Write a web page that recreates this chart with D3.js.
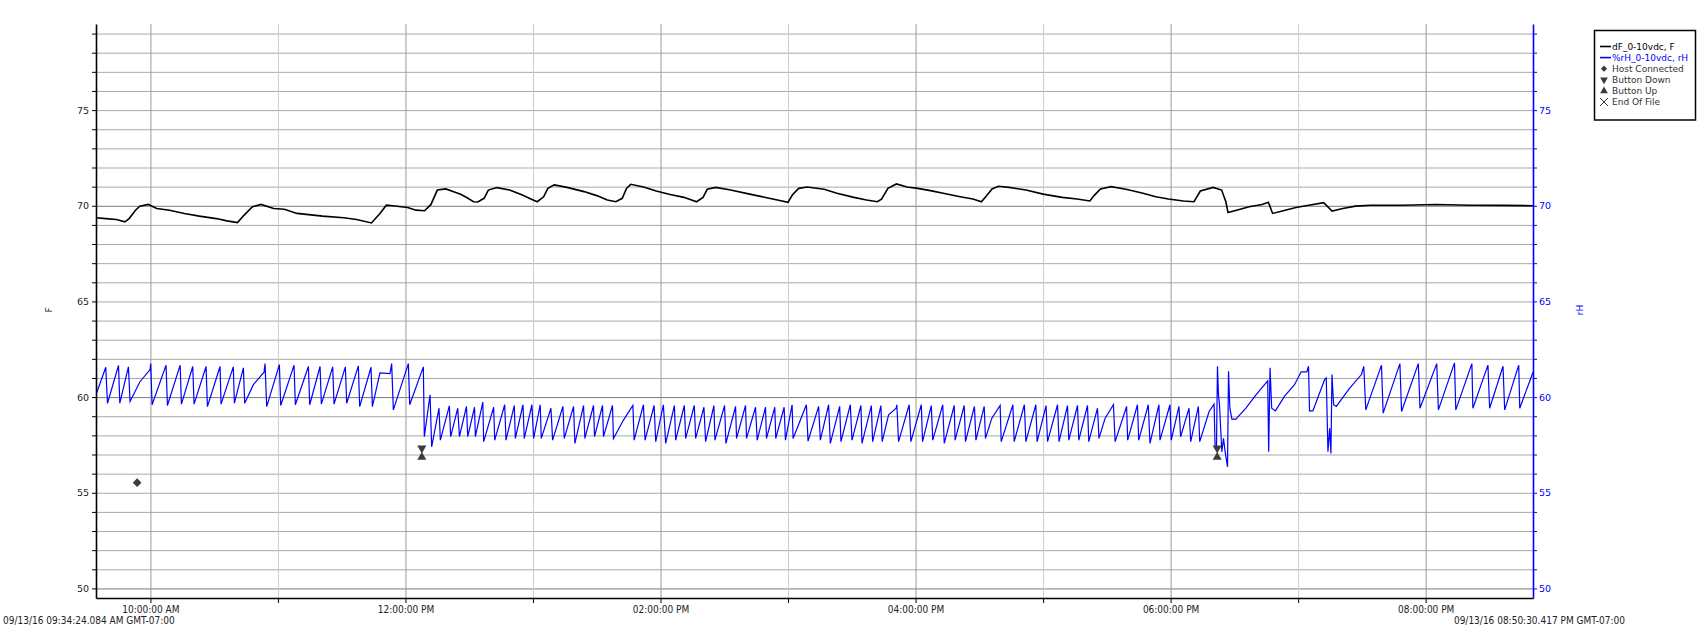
<!DOCTYPE html>
<html><head><meta charset="utf-8">
<script src="https://cdn.jsdelivr.net/npm/d3@7/dist/d3.min.js"></script>
<style>
body{margin:0;background:#fff;}
svg{display:block;}
text{font-family:"DejaVu Sans",sans-serif;}
.cond{font-family:"DejaVu Sans Condensed","Liberation Sans Narrow","Liberation Sans",sans-serif;}
</style></head><body>
<svg id="chart" width="1706" height="633"></svg>
<script>
// ---------- data ----------
const startTime = "09:34:24.084";
const endTime = "20:50:30.417";
const startLabel = "09/13/16 09:34:24.084 AM GMT-07:00";
const endLabel = "09/13/16 08:50:30.417 PM GMT-07:00";
const yDomain = [49.5, 79.5];
const yTicks = d3.range(50, 80);
const yLabelTicks = [50, 55, 60, 65, 70, 75];

const tempTimes = ["09:34:24","09:39","09:44","09:48","09:50","09:53","09:55","09:59","10:03","10:09","10:16","10:23","10:31","10:36","10:41","10:44","10:48","10:52","10:58","11:03","11:09","11:21","11:31","11:37","11:44","11:48","11:51","11:54","12:01","12:05","12:09","12:12","12:15","12:19","12:23","12:26","12:29","12:32","12:34","12:37","12:39","12:43","12:49","12:55","12:59","13:02","13:05","13:07","13:10","13:16","13:24","13:30","13:35","13:39","13:42","13:44","13:46","13:52","13:58","14:04","14:11","14:17","14:20","14:22","14:26","14:33","14:42","14:50","14:55","15:00","15:02","15:05","15:09","15:17","15:23","15:31","15:37","15:42","15:44","15:47","15:51","15:56","16:01","16:07","16:13","16:21","16:27","16:31","16:33","16:36","16:39","16:44","16:52","17:00","17:09","17:16","17:22","17:24","17:27","17:32","17:39","17:47","17:53","17:59","18:06","18:11","18:14","18:20","18:24","18:26","18:27","18:31","18:37","18:43","18:46","18:48","18:53","18:59","19:05","19:12","19:16","19:21","19:27","19:34","19:49","20:05","20:21","20:37","20:50:30"];
const tempValues = [69.37,69.33,69.28,69.16,69.33,69.77,69.98,70.07,69.86,69.77,69.6,69.46,69.33,69.21,69.12,69.5,69.95,70.07,69.86,69.82,69.6,69.46,69.37,69.28,69.1,69.6,70.03,70.0,69.91,69.77,69.74,70.07,70.82,70.88,70.72,70.6,70.42,70.21,70.2,70.39,70.82,70.95,70.82,70.56,70.35,70.21,70.47,70.91,71.09,70.96,70.74,70.53,70.3,70.21,70.39,70.91,71.12,70.98,70.77,70.6,70.44,70.21,70.44,70.86,70.96,70.82,70.61,70.42,70.3,70.18,70.56,70.91,70.98,70.86,70.65,70.44,70.3,70.21,70.35,70.91,71.14,70.98,70.91,70.79,70.65,70.47,70.35,70.21,70.47,70.88,71.02,70.96,70.82,70.61,70.44,70.35,70.25,70.53,70.88,71.0,70.86,70.65,70.47,70.35,70.25,70.21,70.77,70.96,70.82,70.21,69.65,69.77,69.95,70.07,70.18,69.6,69.74,69.91,70.03,70.16,69.72,69.86,69.98,70.03,70.03,70.07,70.03,70.02,70.0];

const rhTimes = ["09:34:24","09:39:00","09:39:48","09:45:00","09:45:36","09:49:39","09:50:26","09:55:00","09:59:50","10:00:09","10:00:47","10:07:22","10:08:00","10:14:00","10:14:35","10:19:55","10:20:32","10:26:11","10:26:49","10:32:46","10:33:14","10:39:00","10:39:31","10:43:45","10:44:22","10:48:27","10:53:28","10:53:56","10:54:43","11:00:41","11:01:18","11:07:35","11:08:12","11:14:20","11:14:57","11:19:49","11:20:26","11:25:46","11:26:24","11:31:44","11:32:21","11:37:50","11:38:28","11:43:48","11:44:26","11:48:00","11:52:44","11:53:31","11:54:18","12:01:22","12:02:00","12:08:25","12:08:53","12:11:34","12:12:20","12:15:47","12:16:25","12:20:39","12:21:17",
"12:24:36","12:25:24","12:28:42","12:29:18","12:32:30","12:32:54","12:36:24","12:36:48","12:41:30","12:42:00","12:46:42","12:47:18","12:51:12","12:51:42","12:55:18","12:55:54","12:59:30","13:00:18","13:03:24","13:03:54","13:08:27","13:09:14","13:14:05","13:14:43","13:19:05","13:19:43","13:23:47","13:24:25","13:28:29","13:28:57","13:32:42","13:33:11","13:37:24","13:37:52","13:42:34","13:47:00","13:47:35","13:51:58","13:52:44","13:57:00","13:57:45","14:01:21","14:02:26","14:06:31","14:07:08","14:11:12","14:11:50","14:15:54","14:16:32","14:20:26","14:21:13","14:25:08","14:25:36","14:30:09","14:30:46","14:35:19","14:35:47","14:40:00","14:40:28","14:44:42","14:45:29","14:49:24","14:49:52","14:53:46","14:54:14","14:58:10","14:58:47","15:01:55","15:02:23","15:08:38","15:09:25",
"15:14:24","15:15:12","15:19:06","15:19:54","15:24:18","15:24:54","15:29:18","15:30:06","15:34:18","15:34:48","15:39:12","15:39:48","15:43:42","15:44:18","15:47:18","15:50:54","15:51:12","15:52:00","15:57:00","15:57:48","16:02:42","16:03:18","16:07:24","16:08:06","16:12:48","16:13:30","16:18:12","16:18:36","16:22:54","16:23:30","16:27:42","16:28:24","16:32:18","16:32:54","16:35:54","16:39:48","16:40:18","16:45:48","16:46:24","16:51:12","16:51:54","16:56:36","16:57:12","17:01:24","17:02:06","17:06:48","17:07:30","17:11:30","17:12:06","17:16:12","17:16:48","17:20:54","17:21:30","17:25:36","17:26:18","17:29:12","17:33:06","17:33:54","17:39:18","17:39:48","17:44:24","17:45:00","17:49:30","17:50:18","17:54:30","17:55:00","17:59:42","18:00:18",
"18:03:56","18:04:43","18:08:40","18:09:27","18:13:04","18:13:42","18:18:07","18:20:28","18:20:57","18:21:35","18:22:03","18:22:31","18:23:00","18:24:06","18:24:53","18:25:40","18:26:47","18:27:15","18:27:53","18:28:50","18:30:43","18:35:26","18:40:10","18:45:41","18:46:09","18:46:47","18:47:34","18:49:18","18:53:33","18:58:17","19:01:26","19:04:06","19:04:53","19:05:22","19:06:56","19:12:27","19:13:14","19:14:02","19:14:49","19:15:26","19:15:55","19:16:42","19:17:58","19:24:16","19:29:47","19:30:53","19:31:50","19:39:13","19:40:00","19:47:53","19:48:40","19:56:33","19:57:20","20:05:13","20:06:00","20:13:34","20:14:11","20:21:45","20:22:13","20:29:18","20:30:06","20:36:24","20:37:11","20:43:48","20:44:16","20:50:30"];
const rhValues = [60.12,61.56,59.68,61.65,59.68,61.58,59.77,60.79,61.44,61.75,59.6,61.67,59.56,61.67,59.63,61.6,59.63,61.6,59.5,61.6,59.63,61.58,59.68,61.53,59.68,60.65,61.3,61.75,59.5,61.7,59.56,61.67,59.6,61.6,59.6,61.6,59.63,61.58,59.63,61.58,59.68,61.63,59.5,61.56,59.5,61.26,61.23,61.75,59.33,61.75,59.6,61.58,57.93,60.12,57.4,59.42,57.75,59.54,57.93,
59.42,57.93,59.51,57.93,59.47,57.93,59.74,57.67,59.47,57.75,59.6,57.75,59.56,57.84,59.6,57.84,59.6,57.84,59.6,57.84,59.42,57.75,59.51,57.84,59.51,57.58,59.56,57.84,59.56,57.93,59.56,57.93,59.56,57.84,58.8,59.56,57.75,59.6,57.75,59.56,57.67,59.6,57.58,59.56,57.75,59.56,57.84,59.56,57.84,59.47,57.67,59.56,57.75,59.56,57.58,59.51,57.84,59.56,57.84,59.47,57.75,59.47,57.84,59.47,57.84,59.47,57.75,59.6,57.84,59.6,57.7,
59.51,57.75,59.6,57.58,59.51,57.67,59.6,57.75,59.56,57.58,59.56,57.67,59.56,57.67,59.07,59.42,59.6,57.67,59.6,57.67,59.6,57.67,59.56,57.75,59.6,57.58,59.56,57.75,59.56,57.67,59.51,57.75,59.51,57.84,58.9,59.56,57.67,59.6,57.67,59.6,57.67,59.6,57.67,59.56,57.67,59.6,57.67,59.56,57.75,59.56,57.75,59.56,57.67,59.42,57.84,58.9,59.6,57.67,59.51,57.75,59.6,57.75,59.6,57.58,59.6,57.75,59.6,57.75,
59.51,57.93,59.42,57.67,59.51,57.67,59.25,59.63,57.32,57.32,61.61,60.12,59.6,57.14,57.84,57.14,56.35,61.35,59.42,58.85,58.85,59.42,60.12,60.85,57.14,61.53,59.42,59.28,60.04,60.65,61.32,61.32,61.61,59.28,59.28,60.91,61.0,57.14,58.37,57.05,61.18,59.6,59.51,60.47,61.18,61.61,59.33,61.67,59.16,61.75,59.25,61.75,59.42,61.75,59.33,61.79,59.33,61.75,59.42,61.67,59.42,61.61,59.33,61.67,59.42,61.3];

const eventNames = ["Host Connected", "Button Down", "Button Up", "Button Down", "Button Up"];
const eventTimes = ["09:53:45", "12:07:42", "12:07:42", "18:21:55", "18:21:55"];
const eventValues = [55.53, 57.33, 56.86, 57.33, 56.86];

const legendLabels = ["dF_0-10vdc, F", "%rH_0-10vdc, rH", "Host Connected", "Button Down", "Button Up", "End Of File"];

// ---------- chart ----------
const parseT = s => { const p = s.split(":"); const ms = Math.round(parseFloat(p[2] || "0") * 1000); return new Date(2016, 8, 13, +p[0], +p[1], 0, ms); };
const L = 96, R = 1533, T = 24, B = 598;
const svg = d3.select("#chart");
const x = d3.scaleTime().domain([parseT(startTime), parseT(endTime)]).range([L, R]);
const yF = d3.scaleLinear().domain(yDomain).range([B, T]);
const yRH = d3.scaleLinear().domain(yDomain).range([B, T]);

svg.append("defs").append("clipPath").attr("id", "clip")
  .append("rect").attr("x", L).attr("y", T).attr("width", R - L).attr("height", B - T);

// horizontal grid
const hg = svg.append("g").attr("transform", `translate(${L},0)`)
  .call(d3.axisLeft(yF).tickValues(yTicks).tickSize(-(R - L)).tickFormat(""));
hg.select(".domain").remove();
hg.selectAll(".tick line").attr("stroke", d => d % 10 === 0 ? "#7a7a7a" : "#a9a9a9").attr("stroke-width", 1);

// vertical grid
const hours = d3.timeHour.range(d3.timeHour.ceil(x.domain()[0]), x.domain()[1]);
const vg = svg.append("g").attr("transform", `translate(0,${B})`)
  .call(d3.axisBottom(x).tickValues(hours).tickSize(-(B - T)).tickFormat(""));
vg.select(".domain").remove();
vg.selectAll(".tick line").attr("stroke", d => d.getHours() % 2 === 0 ? "#9a9a9a" : "#cdcdcd").attr("stroke-width", 1);

// series
const plot = svg.append("g").attr("clip-path", "url(#clip)");
const tempData = tempTimes.map((t, i) => ({ t: parseT(t), v: tempValues[i] }));
const rhData = rhTimes.map((t, i) => ({ t: parseT(t), v: rhValues[i] }));
plot.append("path").datum(tempData)
  .attr("fill", "none").attr("stroke", "#000").attr("stroke-width", 1.6)
  .attr("d", d3.line().x(d => x(d.t)).y(d => yF(d.v)));
plot.append("path").datum(rhData)
  .attr("fill", "none").attr("stroke", "#0000ff").attr("stroke-width", 1.2)
  .attr("d", d3.line().x(d => x(d.t)).y(d => yRH(d.v)));

// event markers
const sym = {
  "Host Connected": d3.symbol().type(d3.symbolSquare).size(38),
  "Button Down": d3.symbol().type(d3.symbolTriangle).size(36),
  "Button Up": d3.symbol().type(d3.symbolTriangle).size(36)
};
const rot = n => n === "Button Down" ? " rotate(180)" : (n === "Host Connected" ? " rotate(45)" : "");
eventNames.forEach((n, i) => {
  svg.append("path").attr("d", sym[n]())
    .attr("fill", "#3c3c3c")
    .attr("transform", `translate(${x(parseT(eventTimes[i]))},${yRH(eventValues[i])})` + rot(n));
});

// axes
const leftAx = svg.append("g").attr("transform", `translate(${L},0)`)
  .call(d3.axisLeft(yF).tickValues(yTicks).tickSize(4).tickSizeOuter(0).tickPadding(3)
    .tickFormat(d => yLabelTicks.includes(d) ? d : ""));
leftAx.select(".domain").attr("stroke", "#000").attr("stroke-width", 1.6);
leftAx.selectAll(".tick line").attr("stroke", "#000");
leftAx.selectAll("text").attr("font-size", 9.5).attr("fill", "#222").attr("font-family", "DejaVu Sans");

const rightAx = svg.append("g").attr("transform", `translate(${R},0)`)
  .call(d3.axisRight(yRH).tickValues(yTicks).tickSize(4).tickSizeOuter(0).tickPadding(2)
    .tickFormat(d => yLabelTicks.includes(d) ? d : ""));
rightAx.select(".domain").attr("stroke", "#0000ff").attr("stroke-width", 1.6);
rightAx.selectAll(".tick line").attr("stroke", "#0000ff");
rightAx.selectAll("text").attr("font-size", 9.5).attr("fill", "#0000ff").attr("font-family", "DejaVu Sans");

const fmt = d3.timeFormat("%I:%M:%S %p");
const botAx = svg.append("g").attr("transform", `translate(0,${B})`)
  .call(d3.axisBottom(x).tickValues(hours).tickSize(5).tickSizeOuter(0).tickPadding(3)
    .tickFormat(d => d.getHours() % 2 === 0 ? fmt(d) : ""));
botAx.select(".domain").attr("stroke", "#000").attr("stroke-width", 1.6);
botAx.selectAll(".tick line").attr("stroke", "#000");
botAx.selectAll("text").attr("class", "cond").attr("font-size", 10).attr("fill", "#222");

// axis titles
svg.append("text").attr("transform", "translate(52,310) rotate(-90)").attr("text-anchor", "middle")
  .attr("font-size", 9).attr("fill", "#222").text("F");
svg.append("text").attr("transform", "translate(1583,310) rotate(-90)").attr("text-anchor", "middle")
  .attr("font-size", 9).attr("fill", "#0000ff").text("rH");

// date labels
svg.append("text").attr("class", "cond").attr("x", 3).attr("y", 624).attr("font-size", 10).attr("fill", "#222").text(startLabel);
svg.append("text").attr("class", "cond").attr("x", 1625).attr("y", 624).attr("text-anchor", "end").attr("font-size", 10).attr("fill", "#222").text(endLabel);

// legend
const lg = svg.append("g");
lg.append("rect").attr("x", 1594.5).attr("y", 30.5).attr("width", 101).attr("height", 89.5)
  .attr("fill", "#fff").attr("stroke", "#000").attr("stroke-width", 1.5);
const ly0 = 46.5, ldy = 11.1;
legendLabels.forEach((lab, i) => {
  const cy = ly0 + i * ldy;
  const col = i === 1 ? "#0000ff" : (i === 0 ? "#000" : "#333");
  if (i < 2) {
    lg.append("line").attr("x1", 1600).attr("x2", 1611).attr("y1", cy).attr("y2", cy)
      .attr("stroke", col).attr("stroke-width", 1.6);
  } else if (i === 5) {
    lg.append("path").attr("d", `M${1600},${cy - 4}L${1608},${cy + 4}M${1608},${cy - 4}L${1600},${cy + 4}`)
      .attr("stroke", "#333").attr("stroke-width", 1).attr("fill", "none");
  } else {
    const n = legendLabels[i];
    lg.append("path").attr("d", d3.symbol().type(n === "Host Connected" ? d3.symbolSquare : d3.symbolTriangle).size(n === "Host Connected" ? 20 : 26)())
      .attr("fill", "#3c3c3c")
      .attr("transform", `translate(1604,${cy})` + rot(n));
  }
  lg.append("text").attr("x", 1612).attr("y", cy + 3.3).attr("font-size", 9).attr("fill", col).text(lab);
});
</script>
</body></html>
